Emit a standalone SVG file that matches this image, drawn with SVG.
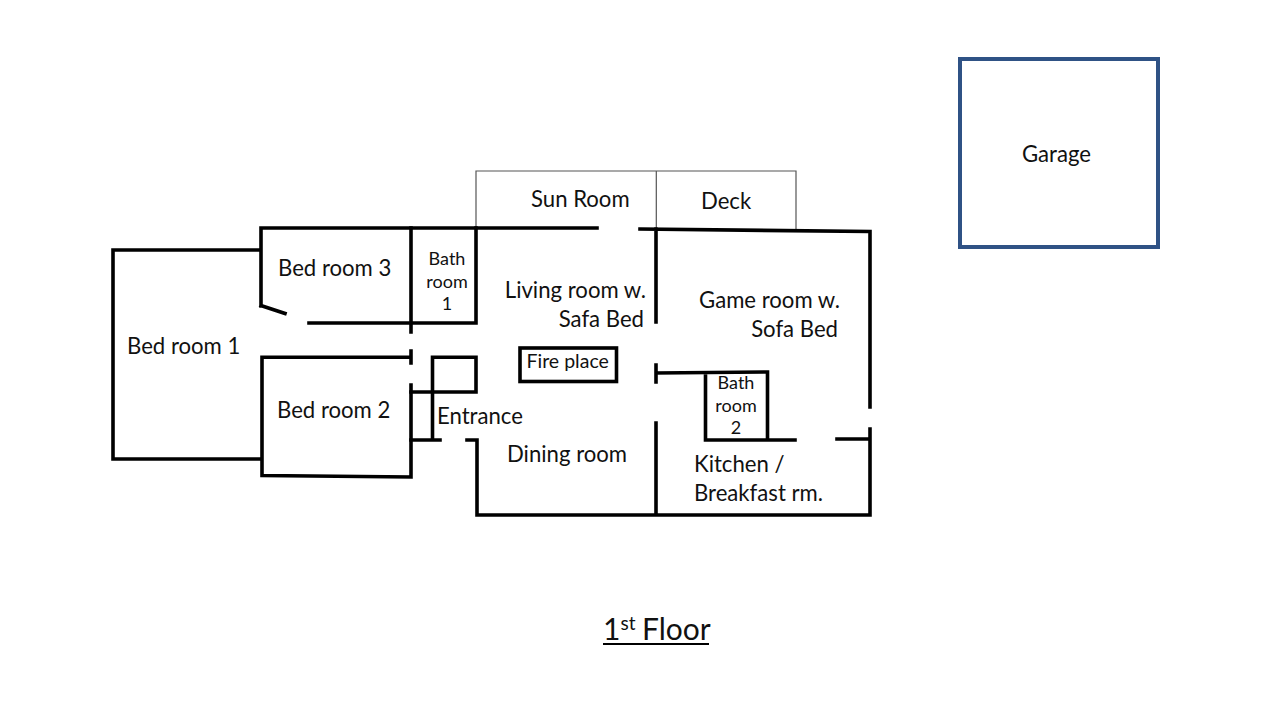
<svg xmlns="http://www.w3.org/2000/svg" width="1280" height="720" viewBox="0 0 1280 720">
<style>
.w{fill:none;stroke:#000;stroke-width:3.6;stroke-linecap:square;stroke-linejoin:miter}
.t{fill:none;stroke:#555;stroke-width:1.2}
text{font-family:"Lato","Open Sans",sans-serif;fill:#111;font-size:22.15px}
.s{font-size:18px}
.f{font-size:19.5px}
.h{font-size:30px}
.u{font-size:19px}
</style>
<rect width="1280" height="720" fill="#fff"/>
<g id="walls">
<path class="t" d="M476 227V171H796V230M656.300 171V229"/>
<path class="w" d="M260 250H113V459H261"/>
<path class="w" d="M261 306V228H597M285 313.500L261 305.500"/>
<path class="w" d="M309 323H476V228M411 228V332"/>
<path class="w" d="M411 351V363M411 357.300H262V475.500L411 477V385"/>
<path class="w" d="M411 392H476V357.300H432.500V440M411 440H440"/>
<path class="w" d="M467 440H477V515H870V429M656 423V515M837 439H870"/>
<path class="w" d="M640 229L870 231.500V407M656 229V322M656 365V382M656 373L767.500 372V440M705.500 373V440H795"/>
<rect id="fireplace" class="w" x="520" y="348" width="96.500" height="33.500"/>
</g>
<g id="garage"><rect x="960" y="59" width="198" height="188" fill="none" stroke="#2f5285" stroke-width="4"/><text x="1022" y="161.500">Garage</text></g>
<g id="sun-room"><text x="531" y="206.500">Sun Room</text></g>
<g id="deck"><text x="701" y="208.500">Deck</text></g>
<g id="bed-room-1"><text x="127" y="353.500">Bed room 1</text></g>
<g id="bed-room-2"><text x="277" y="417.500">Bed room 2</text></g>
<g id="bed-room-3"><text x="278" y="275.500">Bed room 3</text></g>
<g id="bath-room-1"><text class="s" x="447" y="265" text-anchor="middle">Bath</text><text class="s" x="447" y="288" text-anchor="middle">room</text><text class="s" x="447" y="310" text-anchor="middle">1</text></g>
<g id="living-room"><text x="646" y="297.500" text-anchor="end">Living room w.</text><text x="644" y="326.500" text-anchor="end">Safa Bed</text></g>
<g id="game-room"><text x="840" y="307.500" text-anchor="end">Game room w.</text><text x="838" y="336.500" text-anchor="end">Sofa Bed</text></g>
<g id="fire-place"><text class="f" x="526.500" y="368">Fire place</text></g>
<g id="bath-room-2"><text class="s" x="736" y="389" text-anchor="middle">Bath</text><text class="s" x="736" y="412" text-anchor="middle">room</text><text class="s" x="736" y="434" text-anchor="middle">2</text></g>
<g id="entrance"><text x="437" y="423.500">Entrance</text></g>
<g id="dining-room"><text x="507" y="461.500">Dining room</text></g>
<g id="kitchen"><text x="694" y="471.500">Kitchen /</text><text x="694" y="500.500">Breakfast rm.</text></g>
<g id="title"><text class="h" x="603" y="640">1<tspan class="u" x="620.500" y="630">st</tspan><tspan class="h" x="642" y="640">Floor</tspan></text><path d="M603 644H709" stroke="#000" stroke-width="2" fill="none"/></g>
</svg>
